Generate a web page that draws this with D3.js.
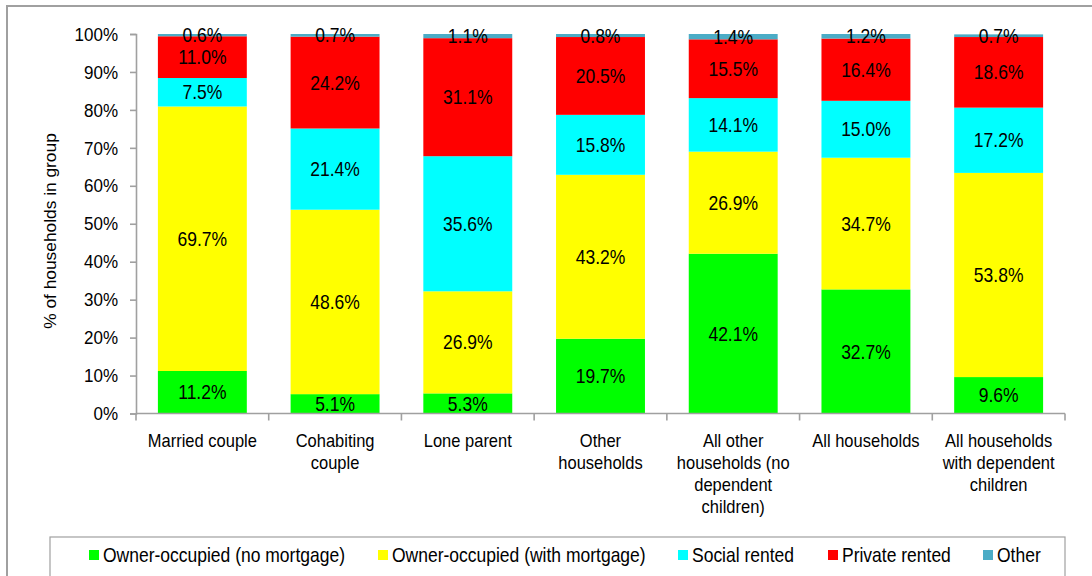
<!DOCTYPE html>
<html>
<head>
<meta charset="utf-8">
<script src="https://cdn.jsdelivr.net/npm/d3@7"></script>
<style>
  html, body { margin: 0; padding: 0; background: #fff; }
  svg { display: block; font-family: "Liberation Sans", Arial, sans-serif; }
</style>
</head>
<body>
<svg id="chart" width="1092" height="576"></svg>
<script>
// Household type categories (label lines for the x axis)
const categories = [
  ["Married couple"],
  ["Cohabiting", "couple"],
  ["Lone parent"],
  ["Other", "households"],
  ["All other", "households (no", "dependent", "children)"],
  ["All households"],
  ["All households", "with dependent", "children"]
];

// Tenure series, bottom to top
const seriesNames = [
  "Owner-occupied (no mortgage)",
  "Owner-occupied (with mortgage)",
  "Social rented",
  "Private rented",
  "Other"
];
const seriesColors = ["#00ff00", "#ffff00", "#00ffff", "#ff0000", "#4bacc6"];

// Percentages of households per category, one array per tenure
const ownerNoMortgage   = [11.2,  5.1,  5.3, 19.7, 42.1, 32.7,  9.6];
const ownerWithMortgage = [69.7, 48.6, 26.9, 43.2, 26.9, 34.7, 53.8];
const socialRented      = [ 7.5, 21.4, 35.6, 15.8, 14.1, 15.0, 17.2];
const privateRented     = [11.0, 24.2, 31.1, 20.5, 15.5, 16.4, 18.6];
const otherTenure       = [ 0.6,  0.7,  1.1,  0.8,  1.4,  1.2,  0.7];

const yTicks = [0, 10, 20, 30, 40, 50, 60, 70, 80, 90, 100];

const seriesValues = [ownerNoMortgage, ownerWithMortgage, socialRented, privateRented, otherTenure];

const svg = d3.select("#chart");
const axisColor = "#a0a0a0";
const stretch = 1.13; // tall, narrow glyph look

// Stretch a text element vertically about a given y
function tall(sel, cy) {
  sel.attr("transform", `translate(0,${cy}) scale(1,${stretch}) translate(0,${-cy})`);
}

// Outer chart frame
svg.append("rect")
  .attr("x", 7).attr("y", 6)
  .attr("width", 1100).attr("height", 600)
  .attr("fill", "none")
  .attr("stroke", axisColor)
  .attr("stroke-width", 2);

const plot = { left: 136, right: 1065, top: 34, bottom: 413.5 };

const x = d3.scaleBand()
  .domain(d3.range(categories.length))
  .range([plot.left, plot.right])
  .paddingInner(0.33)
  .paddingOuter(0.165);

const y = d3.scaleLinear()
  .domain([0, 100])
  .range([plot.bottom, plot.top]);

// Stack the series
const rows = categories.map((c, i) => {
  const r = { idx: i };
  seriesNames.forEach((s, k) => { r[s] = seriesValues[k][i]; });
  return r;
});
const stacked = d3.stack().keys(seriesNames)(rows);

const layers = svg.append("g").selectAll("g")
  .data(stacked)
  .join("g")
  .attr("fill", (d, k) => seriesColors[k]);

layers.selectAll("rect")
  .data(d => d)
  .join("rect")
  .attr("x", d => x(d.data.idx))
  .attr("width", x.bandwidth())
  .attr("y", d => y(d[1]))
  .attr("height", d => y(d[0]) - y(d[1]));

// Value labels centred in each segment
const labels = svg.append("g")
  .attr("font-size", 17.5)
  .attr("fill", "#000")
  .attr("text-anchor", "middle");
stacked.forEach(layer => {
  labels.selectAll(null)
    .data(layer)
    .join("text")
    .attr("x", d => x(d.data.idx) + x.bandwidth() / 2)
    .attr("y", d => y((d[0] + d[1]) / 2))
    .attr("dy", "0.36em")
    .attr("transform", d => {
      const cy = y((d[0] + d[1]) / 2);
      return `translate(0,${cy}) scale(1,${stretch}) translate(0,${-cy})`;
    })
    .text(d => d3.format(".1f")(d[1] - d[0]) + "%");
});

// Y axis
const yAxis = svg.append("g")
  .attr("transform", `translate(${plot.left},0)`)
  .call(d3.axisLeft(y).tickValues(yTicks).tickFormat(d => d + "%").tickSize(6).tickPadding(12));
yAxis.select(".domain").attr("stroke", axisColor).attr("stroke-width", 1.6);
yAxis.selectAll(".tick line").attr("stroke", axisColor).attr("stroke-width", 1.6);
yAxis.selectAll(".tick text")
  .attr("font-size", 17)
  .attr("font-family", "Liberation Sans, Arial, sans-serif")
  .attr("fill", "#000")
  .attr("transform", `scale(1,${stretch})`);

// X axis line with ticks at category boundaries
const xAxisG = svg.append("g");
xAxisG.append("line")
  .attr("x1", plot.left).attr("x2", plot.right)
  .attr("y1", plot.bottom).attr("y2", plot.bottom)
  .attr("stroke", axisColor).attr("stroke-width", 1.6);
const step = x.step();
const bounds = d3.range(categories.length + 1).map(i => x(0) - step * x.paddingOuter() + i * step);
xAxisG.selectAll("line.tk")
  .data(bounds)
  .join("line")
  .attr("class", "tk")
  .attr("x1", d => d).attr("x2", d => d)
  .attr("y1", plot.bottom).attr("y2", plot.bottom + 7)
  .attr("stroke", axisColor).attr("stroke-width", 1.6);

// Category labels, one text per line
const catLabels = svg.append("g")
  .attr("font-size", 16.5)
  .attr("fill", "#000")
  .attr("text-anchor", "middle");
categories.forEach((lines, i) => {
  lines.forEach((ln, j) => {
    const cy = 440 + j * 22;
    catLabels.append("text")
      .attr("x", x(i) + x.bandwidth() / 2)
      .attr("y", cy)
      .attr("dy", "0.36em")
      .call(tall, cy)
      .text(ln);
  });
});

// Y axis title
svg.append("text")
  .attr("transform", "translate(56,231) rotate(-90) scale(1.02,1)")
  .attr("text-anchor", "middle")
  .attr("font-size", 17)
  .attr("fill", "#000")
  .text("% of households in group");

// Legend
svg.append("rect")
  .attr("x", 50).attr("y", 537)
  .attr("width", 1015).attr("height", 60)
  .attr("fill", "none")
  .attr("stroke", axisColor)
  .attr("stroke-width", 1.2);

const legendX = [89, 378, 678, 828, 983];
const legend = svg.append("g");
seriesNames.forEach((name, k) => {
  legend.append("rect")
    .attr("x", legendX[k]).attr("y", 550)
    .attr("width", 10).attr("height", 10)
    .attr("fill", seriesColors[k]);
  legend.append("text")
    .attr("x", legendX[k] + 14).attr("y", 555)
    .attr("dy", "0.36em")
    .attr("font-size", 17.5)
    .attr("fill", "#000")
    .call(tall, 555)
    .text(name);
});
</script>
</body>
</html>
